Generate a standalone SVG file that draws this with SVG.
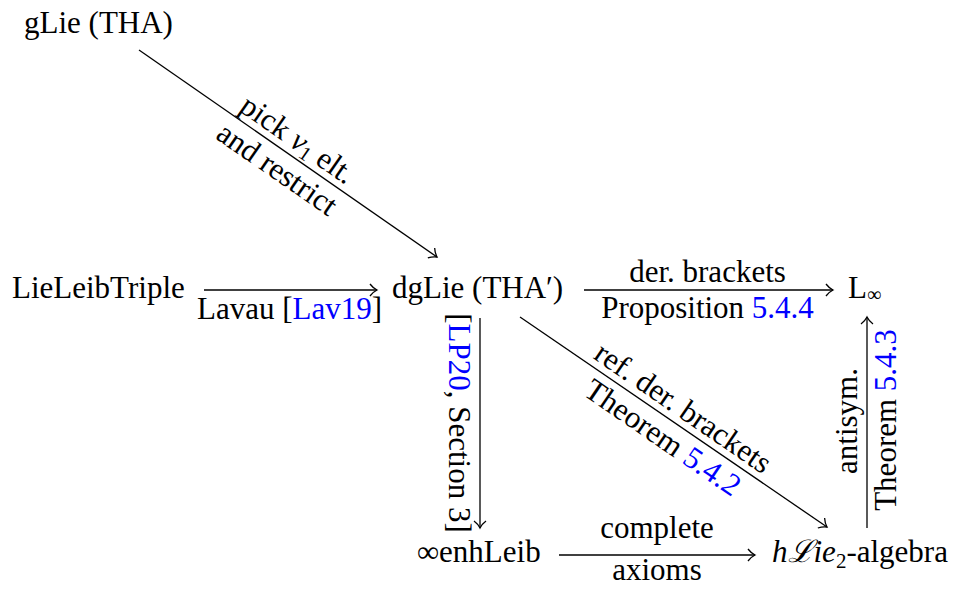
<svg xmlns="http://www.w3.org/2000/svg" width="968" height="591" viewBox="0 0 968 591">
<defs>
<style>
text{font-family:"Liberation Serif","DejaVu Serif",serif;font-size:31px;fill:#000}
.lnk{fill:#0000ff}
.it{font-style:italic}
.e{stroke:#000;stroke-width:1.3;fill:none;marker-end:url(#ah)}
</style>
<marker id="ah" markerUnits="userSpaceOnUse" markerWidth="12" markerHeight="14" viewBox="-10 -7 12 14" refX="0" refY="0" orient="auto" overflow="visible">
<path d="M-7,-6 C-4,-2 -1,-0.5 0,0 C-1,0.5 -4,2 -7,6" fill="none" stroke="#000" stroke-width="1.3"/>
</marker>
</defs>
<rect width="968" height="591" fill="#fff"/>
<g id="n-glie"><text x="24" y="33">gLie (THA)</text></g>
<g id="n-lieleib"><text x="12" y="298">LieLeibTriple</text></g>
<g id="n-dglie"><text x="392" y="298">dgLie (THA′)</text></g>
<g id="n-linf"><text x="848" y="298">L<tspan font-size="20" dy="3">∞</tspan></text></g>
<g id="n-enh"><text x="417" y="562">∞enhLeib</text></g>
<g id="n-hlie"><text x="772" y="562"><tspan class="it">hℒie</tspan><tspan font-size="21" dy="6">2</tspan><tspan dy="-6">-algebra</tspan></text></g>
<g id="connectors">
<line class="e" x1="139" y1="50" x2="437" y2="257"/>
<g transform="translate(288,153.5) rotate(34.8)">
<text x="0" y="-7" text-anchor="middle">pick <tspan class="it">v</tspan><tspan font-size="20" dy="4">1</tspan><tspan dy="-4"> elt.</tspan></text>
<text x="0" y="29" text-anchor="middle">and restrict</text>
</g>
<line class="e" x1="204" y1="290" x2="377" y2="290"/>
<text x="289.5" y="319" text-anchor="middle">Lavau [<tspan class="lnk">Lav19</tspan>]</text>
<line class="e" x1="584" y1="290" x2="833" y2="290"/>
<text x="707.5" y="282" text-anchor="middle">der. brackets</text>
<text x="707.5" y="318" text-anchor="middle">Proposition <tspan class="lnk">5.4.4</tspan></text>
<line class="e" x1="480" y1="318" x2="480" y2="528"/>
<text transform="translate(449,423) rotate(90)" text-anchor="middle">[<tspan class="lnk">LP20</tspan>, Section 3]</text>
<line class="e" x1="520" y1="317" x2="827" y2="527"/>
<g transform="translate(673.5,422) rotate(34.4)">
<text x="0" y="-7" text-anchor="middle">ref. der. brackets</text>
<text x="0" y="29" text-anchor="middle">Theorem <tspan class="lnk">5.4.2</tspan></text>
</g>
<line class="e" x1="559" y1="555" x2="755" y2="555"/>
<text x="657" y="538" text-anchor="middle">complete</text>
<text x="657" y="580" text-anchor="middle">axioms</text>
<line class="e" x1="867" y1="528" x2="867" y2="317"/>
<text transform="translate(857,421) rotate(-90)" text-anchor="middle">antisym.</text>
<text transform="translate(896,420) rotate(-90)" text-anchor="middle">Theorem <tspan class="lnk">5.4.3</tspan></text>
</g>
</svg>
